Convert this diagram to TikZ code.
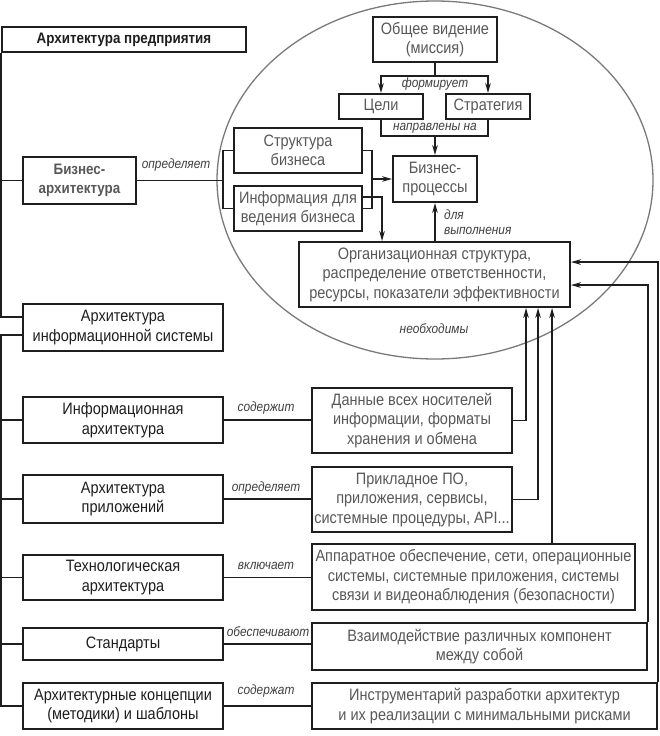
\documentclass[tikz,border=0pt]{standalone}
\usepackage{fontspec}
\setmainfont{Liberation Sans}[FakeStretch=0.88]
\usetikzlibrary{arrows.meta,calc}
\definecolor{txtgray}{HTML}{585858}
\definecolor{linegray}{HTML}{7A7A7A}
\definecolor{ink}{HTML}{1E1E1E}
\begin{document}
\begin{tikzpicture}[x=1pt,y=-1pt,
  box/.style={draw=ink,line width=1.9pt,inner sep=0pt,align=center,font=\fontsize{16.5}{19.5}\selectfont},
  gbox/.style={box,text=txtgray},
  kbox/.style={box,text=ink},
  lbl/.style={font=\fontsize{13.5}{15.5}\selectfont\itshape,text=ink!85,inner sep=0pt},
  conn/.style={draw=ink,line width=1.9pt},
  arr/.style={conn,-{Stealth[length=10pt,width=5.5pt]}},
]
\useasboundingbox (0,0) rectangle (659,736);
\fill[white] (0,0) rectangle (659,736);

% ellipse
\draw[linegray,line width=1.3pt] (435,180) ellipse [x radius=218pt, y radius=179pt];

% left column
\node[kbox,font=\fontsize{15.2}{18}\selectfont\bfseries,minimum width=244pt,minimum height=25pt] (top) at (124,39.5) {Архитектура предприятия};
\node[gbox,font=\fontsize{15.2}{19.5}\selectfont\bfseries,minimum width=113pt,minimum height=47pt] (ba) at (79.5,180.5) {Бизнес-\\архитектура};
\node[kbox,minimum width=200pt,minimum height=47pt] (ais) at (123,327.5) {Архитектура\\информационной системы};
\node[kbox,minimum width=200pt,minimum height=46pt] (ia) at (123,420) {Информационная\\архитектура};
\node[kbox,minimum width=200pt,minimum height=48pt] (app) at (123,499) {Архитектура\\приложений};
\node[kbox,minimum width=200pt,minimum height=45pt] (ta) at (123,577.5) {Технологическая\\архитектура};
\node[kbox,minimum width=200pt,minimum height=32pt] (std) at (123,644) {Стандарты};
\node[kbox,minimum width=200pt,minimum height=46pt] (conc) at (123,706) {Архитектурные концепции\\(методики) и шаблоны};

% ellipse content
\node[gbox,minimum width=128pt,minimum height=45pt] (sb) at (298,150.5) {Структура\\бизнеса};
\node[gbox,minimum width=128pt,minimum height=45pt] (ib) at (298,208.5) {Информация для\\ведения бизнеса};
\node[gbox,minimum width=124pt,minimum height=45pt] (ov) at (435,39.5) {Общее видение\\(миссия)};
\node[gbox,minimum width=84pt,minimum height=25pt] (goals) at (381,106.5) {Цели};
\node[gbox,minimum width=84pt,minimum height=25pt] (strat) at (488,106.5) {Стратегия};
\node[gbox,minimum width=84pt,minimum height=46pt] (bp) at (435,179) {Бизнес-\\процессы};
\node[gbox,minimum width=271pt,minimum height=65pt] (org) at (434.5,274.5) {Организационная структура,\\распределение ответственности,\\ресурсы, показатели эффективности};

% right column
\node[gbox,minimum width=200pt,minimum height=65pt] (data) at (412,420.5) {Данные всех носителей\\информации, форматы\\хранения и обмена};
\node[gbox,minimum width=200pt,minimum height=65pt] (po) at (412,499.5) {Прикладное ПО,\\приложения, сервисы,\\системные процедуры, API...};
\node[gbox,minimum width=323pt,minimum height=66pt] (hw) at (473.5,577) {Аппаратное обеспечение, сети, операционные\\системы, системные приложения, системы\\связи и видеонаблюдения (безопасности)};
\node[gbox,minimum width=335pt,minimum height=47pt] (vz) at (479.5,646.5) {Взаимодействие различных компонент\\между собой};
\node[gbox,minimum width=345pt,minimum height=46pt] (tools) at (484.5,706) {Инструментарий разработки архитектур\\и их реализации с минимальными рисками};

% labels
\node[lbl] (l1) at (176,165) {определяет};
\node[lbl] (l2) at (435,84) {формирует};
\node[lbl] (l3) at (435,128) {направлены на};
\node[lbl,align=left,anchor=west] (l4) at (444,222) {для\\выполнения};
\node[lbl] (l5) at (434,329) {необходимы};
\node[lbl] (l6) at (266,408) {содержит};
\node[lbl] (l7) at (266,488) {определяет};
\node[lbl] (l8) at (266,566) {включает};
\node[lbl] (l9) at (268,632) {обеспечивают};
\node[lbl] (l10) at (266,691) {содержат};

% spines
\draw[conn] (top.south west) |- ($(ais.north west)+(0,14)$);
\draw[conn] (ba.west -| top.west) -- (ba.west);
\draw[conn] ($(ais.north west)+(0,32)$) -| (conc.west -| top.west) -- (conc.west);
\foreach \n in {ia,app,ta,std} \draw[conn] (\n.west -| top.west) -- (\n.west);

% left to right column
\coordinate (lb) at ($(sb.west |- ba.east)+(-10,0)$);
\draw[conn] (ba.east) -- (lb);
\draw[conn] (sb.west) -| (lb) |- (ib.west);
\draw[conn] (ia.east) -- (ia.east -| data.west);
\draw[conn] (app.east) -- (app.east -| po.west);
\draw[conn] (ta.east) -- (ta.east -| hw.west);
\draw[conn] (std.east) -- (std.east -| vz.west);
\draw[conn] (conc.east) -- (conc.east -| tools.west);

% inside ellipse
\coordinate (fm) at ($(ov.south)+(0,13)$);
\draw[conn] (ov.south) -- (fm);
\draw[arr] (fm) -| (goals.north);
\draw[arr] (fm) -| (strat.north);
\coordinate (nb) at ($(bp.north)+(0,-19)$);
\draw[conn] (goals.south) |- (nb) -| (strat.south);
\draw[arr] (nb) -- (bp.north);
\coordinate (rb) at ($(bp.west)+(-20,0)$);
\draw[conn] (sb.east) -| (rb) |- (ib.east);
\draw[arr] (rb) -- (bp.west);
\draw[arr] ($(ib.east)+(0,-11.5)$) -| ($(org.north west)+(84,0)$);
\draw[arr] (bp.south |- org.north) -- (bp.south);

% into org
\draw[arr] (data.east) -| ($(org.south west)+(228,0)$);
\draw[arr] (po.east) -| ($(org.south west)+(240,0)$);
\draw[arr] ($(hw.north west)+(241,0)$) -- ($(org.south west)+(254,0)$);
\draw[arr] (vz.north east) |- ($(org.north east)+(0,44)$);
\draw[arr] (tools.north east) |- ($(org.north east)+(0,21)$);
\end{tikzpicture}
\end{document}
